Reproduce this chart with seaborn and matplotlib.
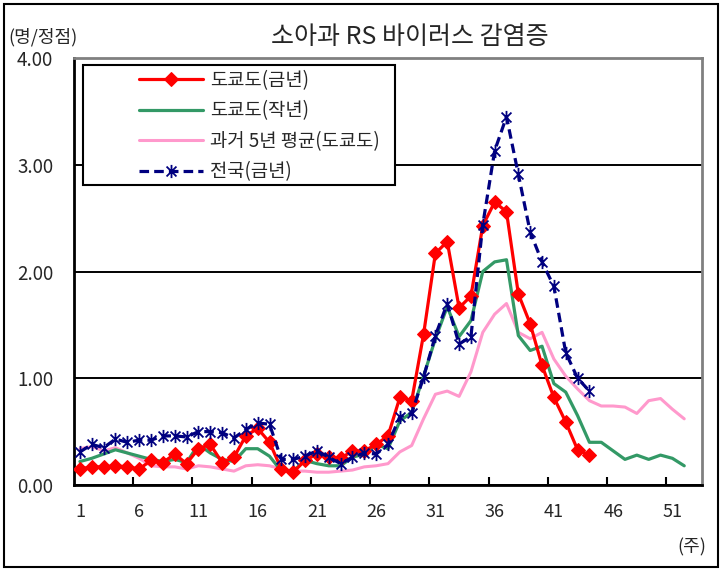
import matplotlib
matplotlib.use("Agg")
import matplotlib.pyplot as plt
from matplotlib.path import Path
from matplotlib.patches import Rectangle
import seaborn as sns

# 주차 (1~52)
weeks = list(range(1, 53))

# 도쿄도(금년) - 44주까지
tokyo_this = [0.15, 0.17, 0.17, 0.18, 0.17, 0.15, 0.23, 0.21, 0.29, 0.20,
              0.34, 0.38, 0.21, 0.26, 0.46, 0.53, 0.40, 0.15, 0.12, 0.23,
              0.29, 0.26, 0.25, 0.32, 0.32, 0.38, 0.46, 0.82, 0.79, 1.41,
              2.17, 2.28, 1.66, 1.77, 2.43, 2.65, 2.56, 1.79, 1.51, 1.12,
              0.82, 0.59, 0.33, 0.28]

# 도쿄도(작년)
tokyo_last = [0.22, 0.25, 0.29, 0.33, 0.30, 0.27, 0.24, 0.22, 0.24, 0.21,
              0.38, 0.30, 0.24, 0.22, 0.34, 0.34, 0.27, 0.13, 0.13, 0.23,
              0.20, 0.18, 0.18, 0.26, 0.29, 0.38, 0.34, 0.60, 0.68, 1.02,
              1.37, 1.67, 1.39, 1.54, 2.00, 2.09, 2.11, 1.40, 1.26, 1.30,
              0.95, 0.87, 0.65, 0.40, 0.40, 0.32, 0.24, 0.28, 0.24, 0.28,
              0.25, 0.18]

# 과거 5년 평균(도쿄도)
tokyo_5yr = [0.34, 0.36, 0.32, 0.35, 0.30, 0.25, 0.18, 0.17, 0.17, 0.15,
             0.18, 0.17, 0.15, 0.13, 0.18, 0.19, 0.18, 0.15, 0.13, 0.13,
             0.12, 0.12, 0.13, 0.14, 0.17, 0.18, 0.20, 0.31, 0.37, 0.62,
             0.85, 0.88, 0.83, 1.06, 1.43, 1.60, 1.70, 1.43, 1.37, 1.43,
             1.18, 1.02, 0.90, 0.79, 0.74, 0.74, 0.73, 0.67, 0.79, 0.81,
             0.71, 0.62]

# 전국(금년) - 44주까지
national_this = [0.31, 0.38, 0.35, 0.43, 0.40, 0.42, 0.42, 0.46, 0.46, 0.45,
                 0.50, 0.50, 0.49, 0.44, 0.52, 0.58, 0.57, 0.24, 0.24, 0.27,
                 0.32, 0.26, 0.20, 0.26, 0.30, 0.29, 0.38, 0.64, 0.67, 1.01,
                 1.40, 1.70, 1.32, 1.39, 2.44, 3.13, 3.45, 2.91, 2.37, 2.09,
                 1.86, 1.24, 1.00, 0.88]

series_labels = ["도쿄도(금년)", "도쿄도(작년)", "과거 5년 평균(도쿄도)", "전국(금년)"]
xtick_weeks = [1, 6, 11, 16, 21, 26, 31, 36, 41, 46, 51]
yticks = [0, 1, 2, 3, 4]

sns.set_theme(style="white")
plt.rcParams["font.family"] = ["Noto Sans CJK KR", "DejaVu Sans"]

fig = plt.figure(figsize=(7.21, 5.69), dpi=100)
ax = fig.add_axes([74 / 721, 1 - 485 / 569, 628 / 721, 427 / 569])

# 엑셀식 별표 마커
star = Path([(0, -1), (0, 1), (-0.75, -0.75), (0.75, 0.75), (-0.75, 0.75), (0.75, -0.75)],
            [Path.MOVETO, Path.LINETO] * 3)

sns.lineplot(x=weeks[:len(tokyo_this)], y=tokyo_this, ax=ax, color="#FF0000", lw=2.3,
             marker="D", markersize=7.5, markeredgecolor="#FF0000", label=series_labels[0], zorder=4)
sns.lineplot(x=weeks, y=tokyo_last, ax=ax, color="#339966", lw=2.3,
             label=series_labels[1], zorder=3)
sns.lineplot(x=weeks, y=tokyo_5yr, ax=ax, color="#FF99CC", lw=2.2,
             label=series_labels[2], zorder=2)
sns.lineplot(x=weeks[:len(national_this)], y=national_this, ax=ax, color="#000080", lw=2.3,
             linestyle=(0, (3, 1.6)), marker=star, markersize=9.5, markeredgewidth=1.3,
             markeredgecolor="#000080", markerfacecolor="none", label=series_labels[3], zorder=5)

ax.set_xlim(0.5, 53.5)
ax.set_ylim(0, 4)
ax.set_xlabel("")
ax.set_ylabel("")

ax.set_xticks(xtick_weeks)
ax.set_xticklabels([str(w) for w in xtick_weeks])
ax.set_xticks([w - 0.5 for w in range(6, 52, 5)], minor=True)
ax.tick_params(axis="x", which="major", length=0, pad=13, labelsize=13)
ax.tick_params(axis="x", which="minor", bottom=True, direction="in", length=6, width=1.5, color="black")

ax.set_yticks(yticks)
ax.set_yticklabels([f"{v:.2f}" for v in yticks])
ax.tick_params(axis="y", length=0, pad=15, labelsize=13.5)

ax.yaxis.grid(True, color="black", lw=1.4)
ax.set_axisbelow(True)

for side in ["left", "bottom"]:
    ax.spines[side].set_color("black")
    ax.spines[side].set_linewidth(2)
for side in ["top", "right"]:
    ax.spines[side].set_color("#808080")
    ax.spines[side].set_linewidth(2)

# 범례 상자
ax.add_patch(Rectangle((0.0143, 0.7026), 0.4968, 0.281, transform=ax.transAxes,
                       facecolor="white", edgecolor="black", lw=1.5, zorder=6))
leg = ax.legend(loc="upper left", bbox_to_anchor=(0.1035, 0.9720), frameon=False,
                borderpad=0, borderaxespad=0, handlelength=3.4, handletextpad=0.37,
                labelspacing=0.5, fontsize=13.5, numpoints=1)
leg.set_zorder(7)

fig.text(410 / 721, 1 - 37 / 569, "소아과 RS 바이러스 감염증", ha="center", va="center", fontsize=18)
fig.text(8 / 721, 1 - 37 / 569, "(명/정점)", ha="left", va="center", fontsize=13)
fig.text(706 / 721, 1 - 547 / 569, "(주)", ha="right", va="center", fontsize=13)

fig.patches.append(Rectangle((4 / 721, 2 / 569), 714 / 721, 563 / 569, transform=fig.transFigure,
                             fill=False, edgecolor="black", lw=1.5))

fig.savefig("out.png", dpi=100)
